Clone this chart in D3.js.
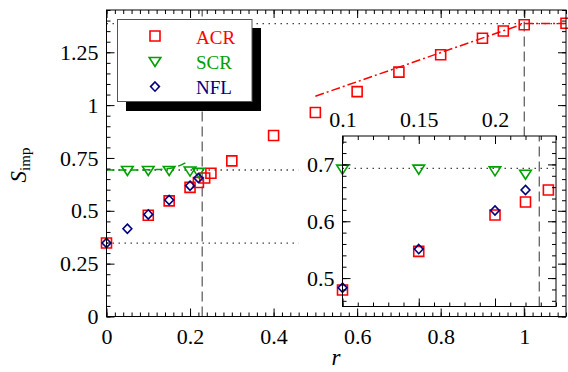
<!DOCTYPE html>
<html><head><meta charset="utf-8">
<script src="https://cdn.jsdelivr.net/npm/d3@7"></script>
<style>
body{margin:0;background:#fff}
svg{display:block}
text{font-family:"Liberation Serif","Times New Roman",serif}
</style>
</head><body>
<svg id="c" width="568" height="372"></svg>
<script>
// ---------- data ----------
const acrR = [0, 0.1, 0.15, 0.2, 0.22, 0.235, 0.25, 0.3, 0.4, 0.5, 0.6, 0.7, 0.8, 0.9, 0.95, 1.0, 1.1];
const acrS = [0.348, 0.479, 0.547, 0.611, 0.634, 0.655, 0.678, 0.736, 0.856, 0.965, 1.064, 1.156, 1.238, 1.316, 1.351, 1.380, 1.387];
const scrR = [0.05, 0.1, 0.15, 0.2, 0.22];
const scrS = [0.692, 0.692, 0.692, 0.689, 0.683];
const nflR = [0, 0.05, 0.1, 0.15, 0.2, 0.22];
const nflS = [0.348, 0.415, 0.483, 0.551, 0.619, 0.655];
const scrFitR = [0, 0.05, 0.1, 0.12, 0.14, 0.16, 0.175, 0.185, 0.195];
const scrFitS = [0.693, 0.693, 0.694, 0.695, 0.698, 0.704, 0.714, 0.723, 0.735];
const acrFitR = [0.5, 1.0, 1.1];
const acrFitS = [1.042, 1.386, 1.386];
const refLn4 = 1.386, refLn2 = 0.693, refHalf = 0.347;
const refShortEnd = 0.46;
const rCrit = 0.229, rOne = 1.0;
const xTicks = [0, 0.2, 0.4, 0.6, 0.8, 1];
const xTickLabels = ["0", "0.2", "0.4", "0.6", "0.8", "1"];
const yTicks = [0, 0.25, 0.5, 0.75, 1, 1.25];
const yTickLabels = ["0", "0.25", "0.5", "0.75", "1", "1.25"];
const inXTicks = [0.1, 0.15, 0.2];
const inXTickLabels = ["0.1", "0.15", "0.2"];
const inYTicks = [0.5, 0.6, 0.7];
const inYTickLabels = ["0.5", "0.6", "0.7"];
const legendNames = ["ACR", "SCR", "NFL"];
const colors = {ACR: "#ff0000", SCR: "#00a000", NFL: "#000080"};

// ---------- setup ----------
const svg = d3.select("#c");
const x = d3.scaleLinear().domain([0, 1.1]).range([106.5, 566]);
const y = d3.scaleLinear().domain([0, 1.45]).range([316.5, 10]);
const xi = d3.scaleLinear().domain([0.1, 0.24]).range([342.5, 556]);
const yi = d3.scaleLinear().domain([0.45, 0.75]).range([306.5, 136]);

const zip = (a, b) => a.map((v, i) => [v, b[i]]);
const TICK_FONT = 22;

function markerPath(type) {
  if (type === "ACR") return "M-5,-5H5V5H-5Z";
  if (type === "SCR") return "M-5.8,-3.8H5.8L0,5.2Z";
  return "M0,-4.6L4.4,0L0,4.6L-4.4,0Z";
}

function drawAxes(g, xs, ys, xMajor, xLabels, yMajor, yLabels, xMinorStep, yMinorStep, xLabelSide) {
  const [x0, x1] = xs.domain(), [y0, y1] = ys.domain();
  const eps = 1e-9;
  const xMinor = d3.range(Math.ceil(x0 / xMinorStep - eps) * xMinorStep, x1 + eps, xMinorStep);
  const yMinor = d3.range(Math.ceil(y0 / yMinorStep - eps) * yMinorStep, y1 + eps, yMinorStep);
  const top = ys.range()[1], bottom = ys.range()[0], left = xs.range()[0], right = xs.range()[1];
  const st = a => a.call(s => s.select(".domain").remove())
                   .call(s => s.selectAll("line").attr("stroke", "#000").attr("stroke-width", 1));
  const fmtFrom = (vals, labs) => v => { const i = vals.findIndex(t => Math.abs(t - v) < 1e-9); return i >= 0 ? labs[i] : ""; };
  // bottom
  g.append("g").attr("transform", `translate(0,${bottom})`)
    .call(d3.axisBottom(xs).tickValues(xMinor).tickSize(-4).tickFormat("")).call(st);
  g.append("g").attr("transform", `translate(0,${bottom})`)
    .call(d3.axisBottom(xs).tickValues(xMajor).tickSize(-8).tickSizeOuter(0).tickPadding(12)
      .tickFormat(xLabelSide === "bottom" ? fmtFrom(xMajor, xLabels) : () => "")).call(st);
  // top
  g.append("g").attr("transform", `translate(0,${top})`)
    .call(d3.axisTop(xs).tickValues(xMinor).tickSize(-4).tickFormat("")).call(st);
  g.append("g").attr("transform", `translate(0,${top})`)
    .call(d3.axisTop(xs).tickValues(xMajor).tickSize(-8).tickSizeOuter(0).tickPadding(9)
      .tickFormat(xLabelSide === "top" ? fmtFrom(xMajor, xLabels) : () => "")).call(st);
  // left
  g.append("g").attr("transform", `translate(${left},0)`)
    .call(d3.axisLeft(ys).tickValues(yMinor).tickSize(-4).tickFormat("")).call(st);
  g.append("g").attr("transform", `translate(${left},0)`)
    .call(d3.axisLeft(ys).tickValues(yMajor).tickSize(-8).tickSizeOuter(0).tickPadding(8)
      .tickFormat(fmtFrom(yMajor, yLabels))).call(st);
  // right
  g.append("g").attr("transform", `translate(${right},0)`)
    .call(d3.axisRight(ys).tickValues(yMinor).tickSize(-4).tickFormat("")).call(st);
  g.append("g").attr("transform", `translate(${right},0)`)
    .call(d3.axisRight(ys).tickValues(yMajor).tickSize(-8).tickSizeOuter(0).tickFormat("")).call(st);
  g.selectAll("text").attr("font-family", '"Liberation Serif","Times New Roman",serif')
    .attr("font-size", TICK_FONT).attr("fill", "#000");
  // frame
  g.append("rect").attr("x", left).attr("y", top).attr("width", right - left).attr("height", bottom - top)
    .attr("fill", "none").attr("stroke", "#000").attr("stroke-width", 1);
}

function drawRefs(g, xs, ys, hLines, vLines) {
  hLines.forEach(([v, a, b]) => g.append("line")
    .attr("x1", xs(a)).attr("x2", xs(b)).attr("y1", ys(v)).attr("y2", ys(v))
    .attr("stroke", "#444").attr("stroke-width", 1.3).attr("stroke-dasharray", "1.5,4.5"));
  vLines.forEach(v => g.append("line")
    .attr("x1", xs(v)).attr("x2", xs(v)).attr("y1", ys.range()[0]).attr("y2", ys.range()[1])
    .attr("stroke", "#333").attr("stroke-width", 1).attr("stroke-dasharray", "10,5"));
}

function drawPoints(g, xs, ys, type, rs, ss) {
  const dom = xs.domain();
  g.append("g").selectAll("path").data(zip(rs, ss).filter(d => d[0] >= dom[0] - 1e-9 && d[0] <= dom[1] + 1e-9))
    .join("path")
    .attr("transform", d => `translate(${xs(d[0])},${ys(d[1])})`)
    .attr("d", markerPath(type))
    .attr("fill", "none").attr("stroke", colors[type]).attr("stroke-width", 1.6);
}

// ---------- main panel ----------
const main = svg.append("g");
drawRefs(main, x, y, [[refLn4, 0, 1.1], [refLn2, 0, refShortEnd], [refHalf, 0, refShortEnd]], [rCrit, rOne]);

const line = d3.line().x(d => x(d[0])).y(d => y(d[1]));
main.append("path").attr("d", d3.line().curve(d3.curveMonotoneX).x(d => x(d[0])).y(d => y(d[1]))(zip(scrFitR, scrFitS)))
  .attr("fill", "none").attr("stroke", colors.SCR).attr("stroke-width", 1.5).attr("stroke-dasharray", "8,4");
main.append("path").attr("d", line(zip(acrFitR, acrFitS)))
  .attr("fill", "none").attr("stroke", colors.ACR).attr("stroke-width", 1.5).attr("stroke-dasharray", "9,3,2,3");

drawPoints(main, x, y, "ACR", acrR, acrS);
drawPoints(main, x, y, "SCR", scrR, scrS);
drawPoints(main, x, y, "NFL", nflR, nflS);
drawAxes(main, x, y, xTicks, xTickLabels, yTicks, yTickLabels, 0.02, 0.05, "bottom");

// axis titles
svg.append("text").attr("x", 336).attr("y", 365).attr("text-anchor", "middle")
  .attr("font-size", 23).attr("font-style", "italic").text("r");
const yl = svg.append("text").attr("transform", "translate(26,165) rotate(-90)").attr("text-anchor", "middle");
yl.append("tspan").attr("font-size", 23).attr("font-style", "italic").text("S");
yl.append("tspan").attr("font-size", 15).attr("dy", 4).text("imp");

// ---------- legend ----------
const lg = svg.append("g");
lg.append("rect").attr("x", 126).attr("y", 28).attr("width", 135).attr("height", 83).attr("fill", "#000");
lg.append("rect").attr("x", 117.5).attr("y", 19.5).attr("width", 134.5).attr("height", 82)
  .attr("fill", "#fff").attr("stroke", "#555").attr("stroke-width", 1);
legendNames.forEach((n, i) => {
  const cy = 36 + i * 25.3;
  lg.append("path").attr("transform", `translate(155,${cy})`).attr("d", markerPath(n))
    .attr("fill", "none").attr("stroke", colors[n]).attr("stroke-width", 1.6);
  lg.append("text").attr("x", 196).attr("y", cy + 7.5).attr("font-size", 19).attr("fill", colors[n]).text(n);
});

// ---------- inset ----------
const ins = svg.append("g");
ins.append("rect").attr("x", xi.range()[0]).attr("y", yi.range()[1])
  .attr("width", xi.range()[1] - xi.range()[0]).attr("height", yi.range()[0] - yi.range()[1]).attr("fill", "#fff");
drawRefs(ins, xi, yi, [[refLn2, 0.1, 0.24]], [rCrit]);
drawPoints(ins, xi, yi, "ACR", acrR, acrS);
drawPoints(ins, xi, yi, "SCR", scrR, scrS);
drawPoints(ins, xi, yi, "NFL", nflR, nflS);
drawAxes(ins, xi, yi, inXTicks, inXTickLabels, inYTicks, inYTickLabels, 0.01, 0.02, "top");
</script>
</body></html>
